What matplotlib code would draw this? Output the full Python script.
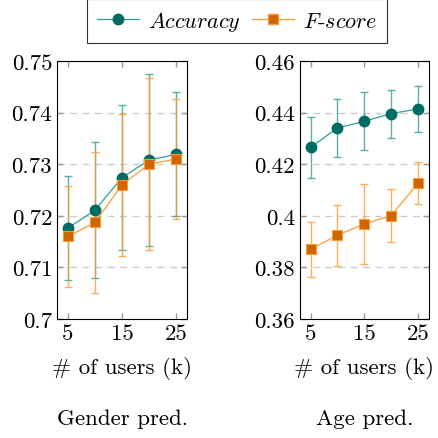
import numpy as np
import matplotlib.pyplot as plt
from matplotlib.lines import Line2D

plt.rcParams['font.family'] = 'serif'
plt.rcParams['font.serif'] = ['cmr10']
plt.rcParams['mathtext.fontset'] = 'cm'
plt.rcParams['axes.formatter.use_mathtext'] = True

users = [5, 10, 15, 20, 25]

# gender prediction
g_acc = [0.7176, 0.7211, 0.7274, 0.7308, 0.7319]
g_acc_err = [0.0101, 0.0132, 0.0140, 0.0167, 0.0120]
g_f = [0.7160, 0.7187, 0.7260, 0.7300, 0.7310]
g_f_err = [0.0098, 0.0136, 0.0138, 0.0166, 0.0116]

# age prediction
a_acc = [0.4265, 0.4340, 0.4366, 0.4396, 0.4414]
a_acc_err = [0.0118, 0.0113, 0.0113, 0.0093, 0.0090]
a_f = [0.3870, 0.3925, 0.3968, 0.4001, 0.4127]
a_f_err = [0.0107, 0.0118, 0.0156, 0.0103, 0.0083]

teal_m = '#006b62'
teal_l = '#2f9e98'
orng_m = '#cc6600'
orng_l = '#ff9a33'

fig = plt.figure(figsize=(4.39, 4.39), dpi=100)
ax1 = fig.add_axes([0.130, 0.271, 0.296, 0.588])
ax2 = fig.add_axes([0.683, 0.271, 0.294, 0.588])

def draw(ax, acc, acc_err, f, f_err, ylim, yticks, ylabels, title):
    ax.errorbar(users, acc, yerr=acc_err, fmt='none', ecolor=teal_l, elinewidth=1.0,
                capsize=3, capthick=1.0, alpha=0.8, zorder=2)
    ax.errorbar(users, f, yerr=f_err, fmt='none', ecolor=orng_l, elinewidth=1.0,
                capsize=3, capthick=1.0, alpha=0.8, zorder=2)
    ax.plot(users, acc, '-', color=teal_l, lw=0.9, marker='o', ms=7.5,
            mfc=teal_m, mec=teal_m, zorder=3)
    ax.plot(users, f, '-', color=orng_l, lw=0.9, marker='s', ms=7,
            mfc=orng_m, mec=orng_l, mew=0.8, zorder=3)
    ax.set_xlim(3, 27)
    ax.set_ylim(*ylim)
    ax.set_xticks([5, 15, 25])
    ax.set_xticklabels(['5', '15', '25'])
    ax.set_yticks(yticks)
    ax.set_yticklabels(ylabels)
    ax.tick_params(direction='in', top=True, right=True, labelsize=16.5,
                   color='#999999', length=4, width=1)
    for t in yticks[1:-1]:
        ax.axhline(t, color='#cccccc', ls=(0, (5, 4)), lw=1, zorder=1)
    for s in ax.spines.values():
        s.set_linewidth(0.8)
    ax.set_xlabel('# of users (k)', fontsize=16.5, labelpad=9)
    ax.text(0.5, -0.345, title, transform=ax.transAxes, ha='center', va='top',
            fontsize=16.5)

draw(ax1, g_acc, g_acc_err, g_f, g_f_err, (0.70, 0.75),
     [0.70, 0.71, 0.72, 0.73, 0.74, 0.75],
     ['0.7', '0.71', '0.72', '0.73', '0.74', '0.75'], 'Gender pred.')
draw(ax2, a_acc, a_acc_err, a_f, a_f_err, (0.36, 0.46),
     [0.36, 0.38, 0.40, 0.42, 0.44, 0.46],
     ['0.36', '0.38', '0.4', '0.42', '0.44', '0.46'], 'Age pred.')

handles = [Line2D([], [], color=teal_l, lw=0.9, marker='o', ms=7.5, mfc=teal_m, mec=teal_m),
           Line2D([], [], color=orng_l, lw=0.9, marker='s', ms=7, mfc=orng_m, mec=orng_l)]
leg = fig.legend(handles, ['$Accuracy$', '$F$-$score$'], loc='center',
                 bbox_to_anchor=(0.540, 0.950), ncol=2, fontsize=16, frameon=True,
                 fancybox=False, edgecolor='black', handlelength=1.9,
                 columnspacing=0.5, handletextpad=0.4, borderpad=0.45)
leg.get_frame().set_linewidth(0.8)

fig.savefig('out.png', dpi=100)
